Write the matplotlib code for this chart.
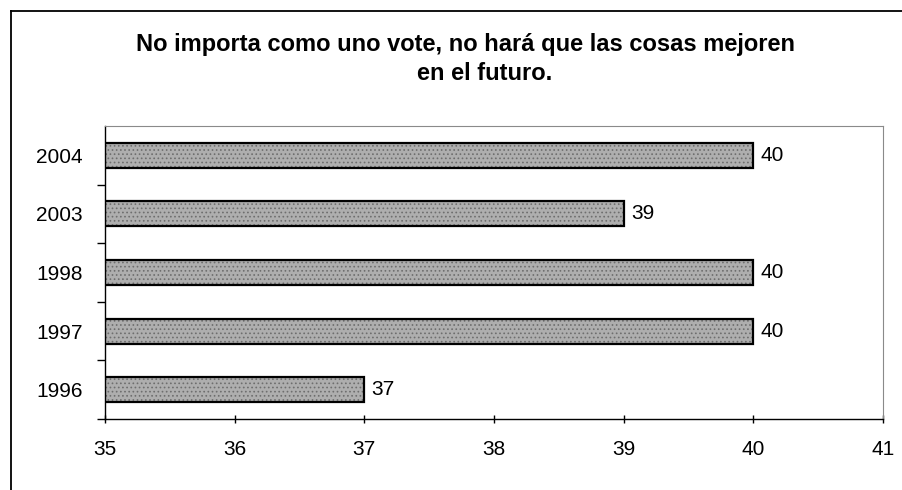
import matplotlib.pyplot as plt
from matplotlib.lines import Line2D

years = ["1996", "1997", "1998", "2003", "2004"]
values = [37, 40, 40, 39, 40]
xticks = [35, 36, 37, 38, 39, 40, 41]

plt.rcParams['font.family'] = ['Liberation Sans', 'DejaVu Sans']
plt.rcParams['hatch.linewidth'] = 0.7

fig = plt.figure(figsize=(9.02, 4.9), dpi=100)
ax = fig.add_axes([105/902, 1-419/490, 778/902, 293/490])

pos = list(range(len(years)))
# stippled grey fill, then a black outline on top
ax.barh(pos, values, height=0.43, color='#aeaeae', hatch='....',
        edgecolor='#6e6e6e', linewidth=0)
bars = ax.barh(pos, values, height=0.43, fill=False,
               edgecolor='black', linewidth=1.6)

ax.set_xlim(35, 41)
ax.set_ylim(-0.5, len(years) - 0.5)
ax.set_xticks(xticks)
ax.set_xticklabels([str(t) for t in xticks], fontsize=15)
ax.set_yticks(pos)
ax.set_yticklabels(years, fontsize=15)
ax.tick_params(axis='y', length=0, pad=16)
ax.tick_params(axis='x', length=6, direction='inout', pad=12, width=1)

# y ticks sit between the categories
ax.set_yticks([p + 0.5 for p in pos[:-1]] + [-0.5], minor=True)
ax.tick_params(axis='y', which='minor', length=6, direction='out', width=1)

for s in ['top', 'right']:
    ax.spines[s].set_color('#8a8a8a')
    ax.spines[s].set_linewidth(0.8)
for s in ['left', 'bottom']:
    ax.spines[s].set_color('black')
    ax.spines[s].set_linewidth(1.0)

for b, v in zip(bars, values):
    ax.text(v + 0.055, b.get_y() + b.get_height() / 2, str(v),
            va='center', ha='left', fontsize=15)

fig.text(465/902, 1-44/490, "No importa como uno vote, no hará que las cosas mejoren",
         ha='center', va='center', fontsize=17, fontweight='bold')
fig.text(485/902, 1-74/490, "en el futuro.",
         ha='center', va='center', fontsize=17, fontweight='bold')

# outer chart frame (only left and top visible)
fig.add_artist(Line2D([11/902, 11/902], [0, 1-11/490], color='black', lw=1.3,
                      transform=fig.transFigure))
fig.add_artist(Line2D([11/902, 1], [1-11/490, 1-11/490], color='black', lw=1.3,
                      transform=fig.transFigure))

fig.savefig('out.png', dpi=100)
